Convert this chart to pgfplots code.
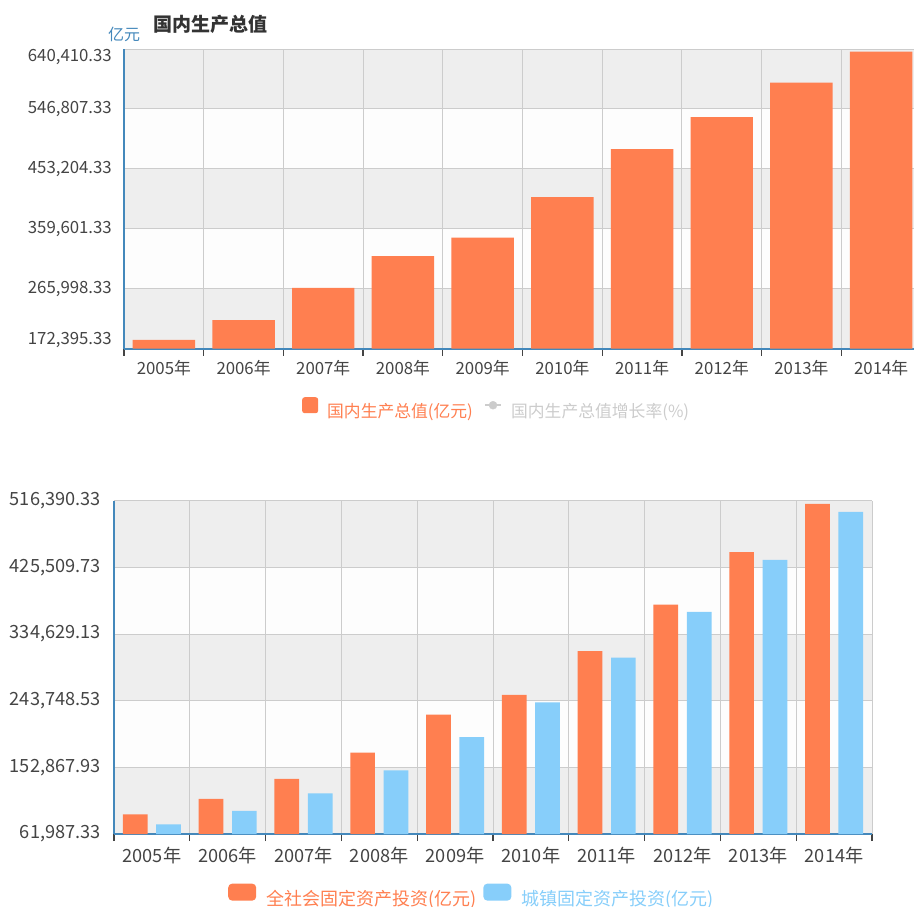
\documentclass[border=0pt]{standalone}
\usepackage{fontspec}
\setmainfont{Noto Sans CJK SC}
\usepackage{pgfplots}
\pgfplotsset{compat=1.18}
\definecolor{coral}{HTML}{FF7F50}
\definecolor{skyb}{HTML}{87CEFA}
\definecolor{axisblue}{HTML}{4488BB}
\definecolor{gridc}{HTML}{CCCCCC}
\definecolor{bandg}{HTML}{EEEEEE}
\definecolor{bandw}{HTML}{FDFDFD}
\definecolor{lab}{HTML}{444444}
\definecolor{titc}{HTML}{333333}
\definecolor{inact}{HTML}{CCCCCC}
\newcommand{\tfa}{\fontsize{16.8}{18}\selectfont}
\newcommand{\tfb}{\fontsize{18.2}{19}\selectfont}
\pgfplotsset{
  common/.style={
    scale only axis, set layers,
    xmin=-0.5, xmax=9.5,
    scaled y ticks=false,
    axis x line*=bottom, axis y line*=left,
    axis line style={axisblue, line width=2pt, -},
    xtick={0,1,2,3,4,5,6,7,8,9},
    xticklabels={2005年,2006年,2007年,2008年,2009年,2010年,2011年,2012年,2013年,2014年},
    minor xtick={-0.5,0.5,1.5,2.5,3.5,4.5,5.5,6.5,7.5,8.5,9.5},
    xminorgrids=true, ymajorgrids=true, xmajorgrids=false,
    major grid style={gridc, line width=1pt},
    minor grid style={gridc, line width=1pt},
    major tick length=0pt, minor tick length=7pt, tick align=outside,
    every minor tick/.append style={lab, line width=1.3pt},
    ytick style={draw=none},
    ticklabel style={text=lab},
    yticklabel style={anchor=east, inner sep=0pt},
    legend style={draw=none, fill=none, inner sep=0pt, legend columns=-1,
      nodes={inner sep=0pt}, anchor=west},
    legend cell align=left,
  }
}
\begin{document}
\begin{tikzpicture}
% ---------------- top chart ----------------
\begin{axis}[common,
  at={(124pt,-348.5pt)}, anchor=south west, width=797pt, height=299.5pt,
  ymin=172395.33, ymax=640410.33,
  ytick={172395.33,265998.33,359601.33,453204.33,546807.33,640410.33},
  yticklabels={{},{265,998.33},{359,601.33},{453,204.33},{546,807.33},{}},
  ticklabel style={font=\tfa},
  yticklabel style={xshift=-12pt},
  xticklabel style={anchor=center, yshift=-19.5pt},
  legend style={at={(0.2233,-0.1995)}, font=\tfa,
    /tikz/every odd column/.append style={column sep=9pt},
    /tikz/every even column/.append style={column sep=11pt}},
]
\addplot[forget plot, on layer=axis background, fill=bandg, draw=none] coordinates {(-0.5,172395.33) (9.5,172395.33) (9.5,265998.33) (-0.5,265998.33)} -- cycle;
\addplot[forget plot, on layer=axis background, fill=bandw, draw=none] coordinates {(-0.5,265998.33) (9.5,265998.33) (9.5,359601.33) (-0.5,359601.33)} -- cycle;
\addplot[forget plot, on layer=axis background, fill=bandg, draw=none] coordinates {(-0.5,359601.33) (9.5,359601.33) (9.5,453204.33) (-0.5,453204.33)} -- cycle;
\addplot[forget plot, on layer=axis background, fill=bandw, draw=none] coordinates {(-0.5,453204.33) (9.5,453204.33) (9.5,546807.33) (-0.5,546807.33)} -- cycle;
\addplot[forget plot, on layer=axis background, fill=bandg, draw=none] coordinates {(-0.5,546807.33) (9.5,546807.33) (9.5,640410.33) (-0.5,640410.33)} -- cycle;
\addplot[ybar, bar width=0.784, fill=coral, draw=none,
  legend image code/.code={\fill[coral, rounded corners=2.5pt] (0pt,-1.8pt) rectangle (16pt,14.2pt);}]
  coordinates {(0,185900) (1,216600) (2,267200) (3,316750) (4,345630) (5,408903) (6,484124) (7,534123) (8,588019) (9,636139)};
\addlegendentry[text=coral]{国内生产总值(亿元)}
\addlegendimage{legend image code/.code={\draw[inact, line width=2.2pt] (0pt,6.2pt) -- (16pt,6.2pt); \fill[inact] (8pt,6.2pt) circle (4pt);}}
\addlegendentry[text=inact]{国内生产总值增长率(\%)}
\end{axis}
\node[anchor=east, inner sep=0pt, font=\tfa, text=lab] at (112pt,-57pt) {640,410.33};
\node[anchor=east, inner sep=0pt, font=\tfa, text=lab] at (112pt,-340pt) {172,395.33};
\node[anchor=west, inner sep=0pt, font=\bfseries\fontsize{19}{21}\selectfont, text=titc] at (153pt,-24pt) {国内生产总值};
\node[anchor=west, inner sep=0pt, font=\fontsize{16}{18}\selectfont, text=axisblue] at (108pt,-34pt) {亿元};
% ---------------- bottom chart ----------------
\begin{axis}[common,
  at={(114pt,-834pt)}, anchor=south west, width=758pt, height=333.3pt,
  ymin=61987.33, ymax=516390.33,
  ytick={61987.33,152867.93,243748.53,334629.13,425509.73,516390.33},
  yticklabels={{61,987.33},{152,867.93},{243,748.53},{334,629.13},{425,509.73},{516,390.33}},
  ticklabel style={font=\tfb},
  yticklabel style={xshift=-13pt},
  xticklabel style={anchor=center, yshift=-21.5pt},
  legend style={at={(0.1504,-0.184)}, font=\fontsize{18}{20}\selectfont,
    /tikz/every odd column/.append style={column sep=10pt},
    /tikz/every even column/.append style={column sep=7pt}},
]
\addplot[forget plot, on layer=axis background, fill=bandg, draw=none] coordinates {(-0.5,61987.33) (9.5,61987.33) (9.5,152867.93) (-0.5,152867.93)} -- cycle;
\addplot[forget plot, on layer=axis background, fill=bandw, draw=none] coordinates {(-0.5,152867.93) (9.5,152867.93) (9.5,243748.53) (-0.5,243748.53)} -- cycle;
\addplot[forget plot, on layer=axis background, fill=bandg, draw=none] coordinates {(-0.5,243748.53) (9.5,243748.53) (9.5,334629.13) (-0.5,334629.13)} -- cycle;
\addplot[forget plot, on layer=axis background, fill=bandw, draw=none] coordinates {(-0.5,334629.13) (9.5,334629.13) (9.5,425509.73) (-0.5,425509.73)} -- cycle;
\addplot[forget plot, on layer=axis background, fill=bandg, draw=none] coordinates {(-0.5,425509.73) (9.5,425509.73) (9.5,516390.33) (-0.5,516390.33)} -- cycle;
\addplot[ybar, bar width=0.326, bar shift=-0.22, fill=coral, draw=none,
  legend image code/.code={\fill[coral, rounded corners=4pt] (0pt,-2pt) rectangle (28pt,15pt);}]
  coordinates {(0,88773.6) (1,109998.2) (2,137323.9) (3,172828.4) (4,224598.8) (5,251683.8) (6,311485.1) (7,374694.7) (8,446294.1) (9,512020.7)};
\addlegendentry[text=coral]{全社会固定资产投资(亿元)}
\addplot[ybar, bar width=0.326, bar shift=0.22, fill=skyb, draw=none,
  legend image code/.code={\fill[skyb, rounded corners=4pt] (0pt,-2pt) rectangle (28pt,15pt);}]
  coordinates {(0,75095.1) (1,93368.7) (2,117464.5) (3,148738.3) (4,193920.4) (5,241430.9) (6,302396.1) (7,364854.1) (8,435747.4) (9,501264.9)};
\addlegendentry[text=skyb]{城镇固定资产投资(亿元)}
\end{axis}
\pgfresetboundingbox
\path[use as bounding box] (0pt,0pt) rectangle (914pt,-906pt);
\end{tikzpicture}
\end{document}
